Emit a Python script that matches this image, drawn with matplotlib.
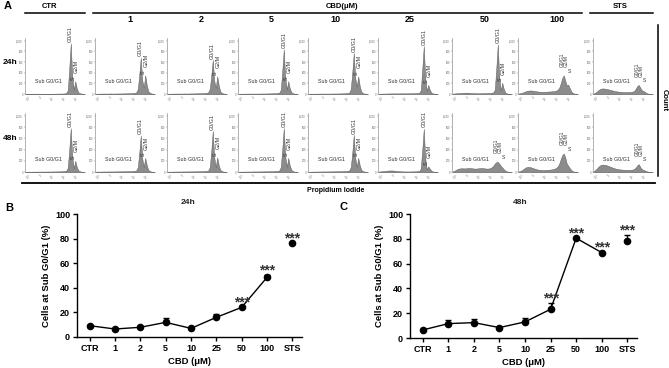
import numpy as np
import matplotlib
matplotlib.use('Agg')
import matplotlib.pyplot as plt
from matplotlib.lines import Line2D

plt.rcParams['font.family'] = ['Liberation Sans', 'DejaVu Sans']

W, H = 669, 368

# ---------------- Panel A data (cell counts per PI bin) -------------
conditions = ['CTR', '1', '2', '5', '10', '25', '50', '100', 'STS']
hist_24h = [
    [5,6,6,5,5,6,7,6,5,5,6,5,5,6,6,5,5,6,6,6,7,7,8,8,9,10,12,18,70,480,950,330,80,240,110,35,15,8,4,2],
    [6,6,7,7,8,9,9,8,8,9,10,9,8,9,10,10,10,11,11,12,12,13,14,15,16,18,22,30,90,360,680,260,120,350,170,55,25,12,6,3],
    [6,6,7,7,8,8,9,9,8,8,9,10,9,9,10,10,11,11,12,12,13,14,15,16,17,19,23,32,95,340,640,250,115,330,160,50,22,10,5,3],
    [5,6,6,6,7,7,8,7,7,8,8,8,8,9,9,9,10,10,10,11,11,12,13,14,15,16,19,26,80,430,840,300,85,240,110,38,16,8,4,2],
    [5,6,6,6,7,7,7,7,7,8,8,8,8,8,9,9,9,10,10,10,11,11,12,13,14,16,19,28,90,400,770,300,140,330,150,45,18,9,4,2],
    [6,7,7,8,9,9,10,10,11,11,12,12,11,11,12,12,13,12,12,13,13,14,14,15,15,16,18,24,70,460,900,300,60,170,80,28,12,6,3,2],
    [8,10,12,14,16,18,20,22,24,25,24,22,20,18,16,15,14,14,14,15,15,16,17,18,19,21,24,30,80,470,930,320,65,210,95,30,12,6,3,2],
    [10,15,22,32,45,55,62,65,66,64,60,55,50,45,42,40,40,41,42,44,46,48,50,53,58,65,80,120,200,300,350,250,160,175,110,50,20,8,4,2],
    [12,25,45,70,90,100,105,102,98,92,85,78,70,62,55,50,46,43,40,38,37,36,36,37,38,40,45,60,100,150,170,120,70,60,40,22,10,5,3,2],
]
hist_48h = [
    [5,5,6,6,6,7,7,7,7,8,8,8,8,8,9,9,9,9,10,10,10,11,11,12,13,14,17,24,75,400,780,270,65,200,95,32,14,7,3,2],
    [6,7,7,8,8,9,9,9,9,10,10,10,10,11,11,11,12,12,12,13,13,14,15,16,17,18,21,28,85,340,650,240,90,250,120,40,17,8,4,2],
    [6,6,7,7,8,8,9,9,9,9,10,10,10,10,11,11,11,12,12,12,13,13,14,15,16,17,20,27,85,370,730,260,90,260,120,40,17,8,4,2],
    [6,6,7,7,8,8,8,9,9,9,10,10,10,10,11,11,11,12,12,12,13,13,14,15,16,17,20,27,85,400,780,280,90,250,120,40,17,8,4,2],
    [6,6,7,7,8,8,9,9,9,10,10,10,10,11,11,11,12,12,12,13,13,14,15,16,17,18,21,28,85,340,660,250,95,250,120,40,17,8,4,2],
    [8,10,13,16,19,22,25,27,28,27,25,22,19,16,14,12,11,10,10,10,10,10,11,11,12,13,15,20,60,390,770,240,45,100,60,25,10,5,3,2],
    [10,20,35,50,60,65,66,65,64,66,70,72,70,66,62,60,62,66,70,72,70,66,62,60,62,70,85,110,150,175,180,150,110,80,50,25,12,6,3,2],
    [10,18,30,50,70,85,92,90,84,75,65,56,48,42,38,36,35,35,36,38,40,43,47,52,60,75,100,150,230,300,330,260,150,110,70,35,15,7,3,2],
    [15,35,60,90,115,128,132,130,124,115,105,95,84,74,65,58,52,48,45,42,40,39,38,38,39,40,44,55,80,120,140,90,50,40,28,16,8,4,2,1],
]
# label layout: 'c' = separate cell-cycle labels, 'a' = stacked labels (apoptotic profile)
label_style_24h = ['c', 'c', 'c', 'c', 'c', 'c', 'c', 'a', 'a']
label_style_48h = ['c', 'c', 'c', 'c', 'c', 'c', 'a', 'a', 'a']
hist_yticks = [0, 200, 400, 600, 800, 1000]
hist_yticklabels = ['0', '200', '400', '600', '800', '1,000']
hist_xticklabels = ['-10³', '0', '10³', '10⁴', '10⁵']

# ---------------- Panels B / C data -------------
categories = ['CTR', '1', '2', '5', '10', '25', '50', '100', 'STS']
sub_24h = [9.2, 6.5, 7.9, 11.9, 7.0, 16.0, 24.1, 48.5, 76.2]
err_24h = [0.5, 0.4, 0.6, 3.5, 0.5, 3.0, 0.6, 2.2, 0.5]
sub_48h = [6.5, 11.6, 12.4, 8.4, 13.0, 23.2, 80.5, 68.9, 78.4]
err_48h = [0.4, 2.7, 3.3, 0.5, 3.5, 5.4, 0.5, 0.6, 4.8]
sig_24h = ['', '', '', '', '', '', '***', '***', '***']
sig_48h = ['', '', '', '', '', '***', '***', '***', '***']

fig = plt.figure(figsize=(W / 100, H / 100), dpi=100)


def box(l, t, r, b):
    return [l / W, 1 - b / H, (r - l) / W, (b - t) / H]


def ftext(x, y, s, **kw):
    fig.text(x / W, 1 - y / H, s, **kw)


def fline(x0, y0, x1, y1, lw=1.0):
    fig.add_artist(Line2D([x0 / W, x1 / W], [1 - y0 / H, 1 - y1 / H],
                          transform=fig.transFigure, color='black', lw=lw))


# ---------------- Panel A -------------
col_left = [25, 95, 167, 238, 308, 378, 452, 518, 593]
col_w = 60
rows = [(38, 94, hist_24h, label_style_24h), (113, 172, hist_48h, label_style_48h)]
hist_color = '#8c8c8c'
lab_kw = dict(color='#333333', clip_on=False)

for (top, bot, data, styles) in rows:
    for ci, counts in enumerate(data):
        l = col_left[ci]
        ax = fig.add_axes(box(l, top, l + col_w, bot))
        bins = np.arange(len(counts))
        ax.fill_between(bins, counts, color=hist_color, edgecolor='#505050', lw=0.3)
        ax.set_xlim(-0.5, len(counts) - 0.5)
        ax.set_ylim(0, 1050)
        for s in ['top', 'right']:
            ax.spines[s].set_visible(False)
        for s in ['left', 'bottom']:
            ax.spines[s].set_linewidth(0.4)
            ax.spines[s].set_color('#777777')
        ax.set_yticks(hist_yticks)
        ax.set_yticklabels(hist_yticklabels)
        ax.set_xticks([2, 10, 18, 26, 34])
        ax.set_xticklabels(hist_xticklabels, rotation=45)
        ax.tick_params(labelsize=1.8, length=1, width=0.3, pad=0.5, colors='#666666')
        ax.patch.set_alpha(0)

        peak = int(np.argmax(counts[24:36])) + 24
        P = counts[peak]
        g2 = peak + 3
        G = counts[g2]
        ax.text(6, 230, 'Sub G0/G1', ha='left', va='center', fontsize=3.9, **lab_kw)
        if styles[ci] == 'a':
            ax.text(peak - 1.3, P + 150, 'G0/G1', rotation=90, ha='center', va='bottom',
                    fontsize=3.5, **lab_kw)
            ax.text(peak + 1.4, P + 150, 'G2/M', rotation=90, ha='center', va='bottom',
                    fontsize=3.5, **lab_kw)
            ax.text(peak + 4.0, P + 30, 'S', ha='center', va='bottom', fontsize=3.6, **lab_kw)
        else:
            ax.text(peak, P + 25, 'G0/G1', rotation=90, ha='center', va='bottom',
                    fontsize=3.9, **lab_kw)
            ax.text(g2 - 1.3, G + 30, 'S', rotation=90, ha='center', va='bottom',
                    fontsize=3.9, **lab_kw)
            ax.text(g2 + 0.4, G + 150, 'G2/M', rotation=90, ha='center', va='bottom',
                    fontsize=3.9, **lab_kw)

# headers
ftext(4, 6, 'A', fontsize=8, fontweight='bold', ha='left', va='center')
ftext(50, 6, 'CTR', fontsize=5.5, fontweight='bold', ha='center', va='center')
ftext(342, 6, 'CBD(μM)', fontsize=5.5, fontweight='bold', ha='center', va='center')
ftext(620, 6, 'STS', fontsize=5.5, fontweight='bold', ha='center', va='center')
fline(25, 13, 85, 13, lw=1.1)
fline(93, 13, 582, 13, lw=1.1)
fline(590, 13, 653, 13, lw=1.1)
for lab, xp in zip(conditions[1:8], [130, 201, 271, 335, 410, 485, 557]):
    ftext(xp, 19, lab, fontsize=6.5, fontweight='bold', ha='center', va='center')
ftext(10, 63, '24h', fontsize=6, fontweight='bold', ha='center', va='center')
ftext(10, 138, '48h', fontsize=6, fontweight='bold', ha='center', va='center')
fline(22, 183, 655, 183, lw=1.3)
ftext(336, 191, 'Propidium Iodide', fontsize=5, fontweight='bold', ha='center', va='center')
fline(658, 25, 658, 176, lw=1.1)
ftext(664, 100, 'Count', fontsize=5.5, fontweight='bold', ha='center', va='center', rotation=270)


# ---------------- Panels B and C -------------
def line_panel(bx, values, errs, sigs, title, letter, letter_xy, title_xy):
    ax = fig.add_axes(box(*bx))
    x = np.arange(len(categories))
    ax.plot(x[:8], values[:8], color='black', lw=1.0, zorder=2)
    ax.errorbar(x, values, yerr=[np.zeros(len(errs)), errs], fmt='o', color='black',
                ms=4.5, capsize=2.5, elinewidth=1.0, capthick=1.0, zorder=3)
    for xi, v, e, s in zip(x, values, errs, sigs):
        if s:
            ax.text(xi, v + e + 3.5, s, ha='center', va='center', fontsize=10,
                    fontweight='bold', color='#333333')
    ax.set_xlim(-0.5, 8.38)
    ax.set_ylim(0, 100)
    ax.set_yticks([0, 20, 40, 60, 80, 100])
    ax.set_xticks(x)
    ax.set_xticklabels(categories)
    for s in ['top', 'right']:
        ax.spines[s].set_visible(False)
    for s in ['left', 'bottom']:
        ax.spines[s].set_linewidth(1.0)
    ax.tick_params(direction='out', length=3, width=1.0, labelsize=6.5, pad=2)
    for t in ax.get_xticklabels() + ax.get_yticklabels():
        t.set_fontweight('bold')
    ax.set_ylabel('Cells at Sub G0/G1 (%)', fontsize=6.8, fontweight='bold', labelpad=3)
    ax.set_xlabel('CBD (μM)', fontsize=6.8, fontweight='bold', labelpad=3)
    ax.patch.set_alpha(0)
    ftext(*title_xy, title, fontsize=6, fontweight='bold', ha='center', va='center', color='#222222')
    ftext(*letter_xy, letter, fontsize=8, fontweight='bold', ha='left', va='center')


line_panel((77, 214, 302, 337), sub_24h, err_24h, sig_24h, '24h', 'B', (5, 208), (188, 203))
line_panel((410, 214, 637, 338), sub_48h, err_48h, sig_48h, '48h', 'C', (339, 207), (520, 203))

fig.savefig('out.png', dpi=100)
